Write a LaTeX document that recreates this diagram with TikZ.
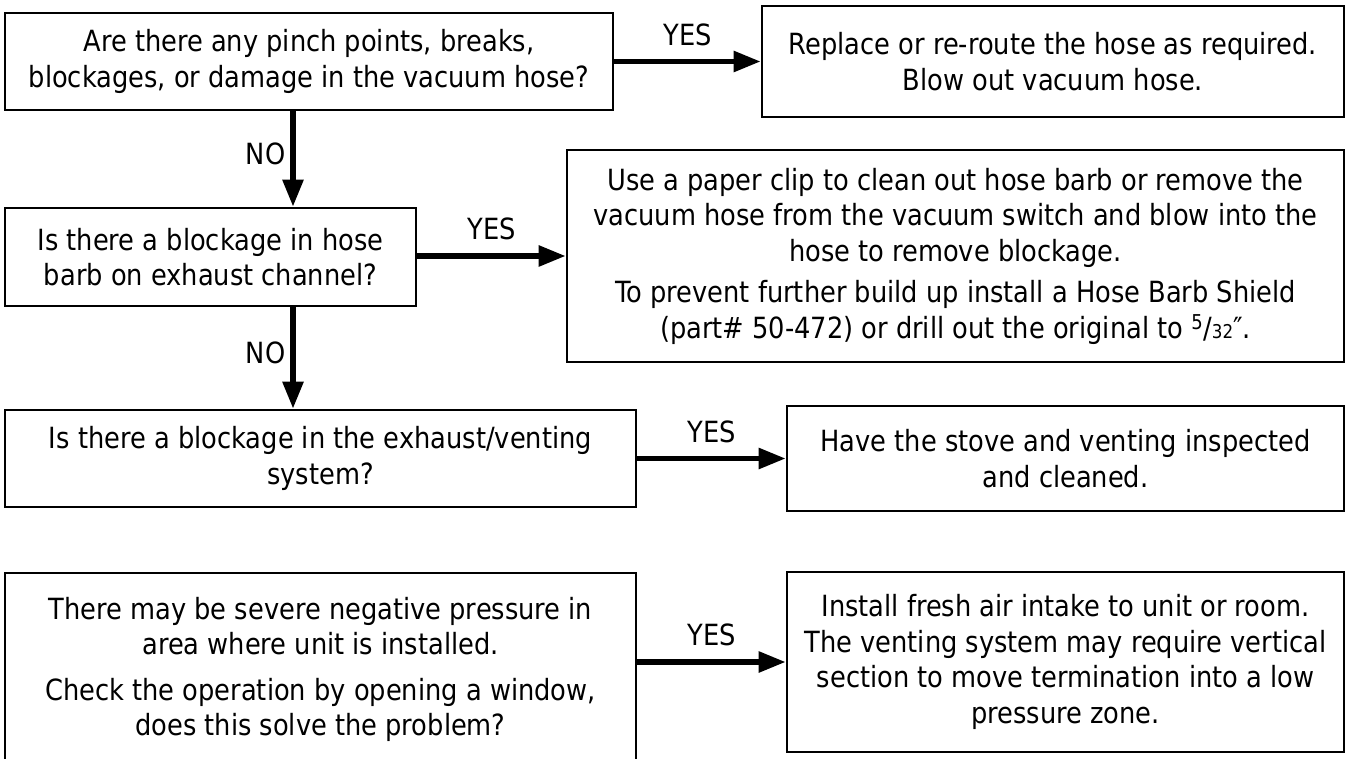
\documentclass[tikz,border=0pt]{standalone}
\usepackage{fontspec}
\setmainfont{DejaVu Sans}[FakeStretch=0.88]
\usetikzlibrary{arrows.meta,positioning}

\begin{document}
\begin{tikzpicture}[x=1pt,y=-1pt,>={Triangle[length=27pt,width=20pt]},
    font=\fontsize{29.2}{35.5}\selectfont,
    flowbox/.style={draw,line width=2.6pt,inner sep=0pt,align=center},
    flow/.style={->,line width=5.5pt},
    lbl/.style={inner sep=0pt}]
\useasboundingbox (0,0) rectangle (1347,759);
\node[flowbox,minimum width=608pt,minimum height=97pt] (q1) at (309,61.5)
  {Are there any pinch points, breaks,\\blockages, or damage in the vacuum hose?};
\node[flowbox,minimum width=582pt,minimum height=111pt] (a1) at (1053,61.5)
  {Replace or re-route the hose as required.\\Blow out vacuum hose.};
\node[flowbox,minimum width=411pt,minimum height=98pt] (q2) at (210.5,257)
  {Is there a blockage in hose\\barb on exhaust channel?};
\node[flowbox,minimum width=777pt,minimum height=212pt] (a2) at (955.5,256)
  {Use a paper clip to clean out hose barb or remove the\\
   vacuum hose from the vacuum switch and blow into the\\
   hose to remove blockage.\\[6pt]
   To prevent further build up install a Hose Barb Shield\\
   (part\# 50-472) or drill out the original to \textsuperscript{5}/{\fontsize{19}{19}\selectfont 32}″.};
\node[flowbox,minimum width=631pt,minimum height=97pt] (q3) at (320.5,458.5)
  {Is there a blockage in the exhaust/venting\\system?};
\node[flowbox,minimum width=557pt,minimum height=105pt] (a3) at (1065.5,458.5)
  {Have the stove and venting inspected\\and cleaned.};
\node[flowbox,minimum width=631pt,minimum height=193pt] (q4) at (320.5,669.5)
  {There may be severe negative pressure in\\area where unit is installed.\\[10pt]
   Check the operation by opening a window,\\does this solve the problem?};
\node[flowbox,minimum width=557pt,minimum height=180pt] (a4) at (1065.5,662)
  {Install fresh air intake to unit or room.\\The venting system may require vertical\\
   section to move termination into a low\\pressure zone.};
\coordinate (nox) at (293,0);
\foreach \q/\a in {q1/a1,q2/a2,q3/a3,q4/a4}
  \draw[flow] (\q.east |- \a.west) -- node[lbl,above=13pt] {YES} (\a.west);
\foreach \q/\n in {q1/q2,q2/q3}
  \draw[flow] (\q.south -| nox) -- node[lbl,pos=0.45,left=5pt] {NO} (\n.north -| nox);
\end{tikzpicture}
\end{document}
